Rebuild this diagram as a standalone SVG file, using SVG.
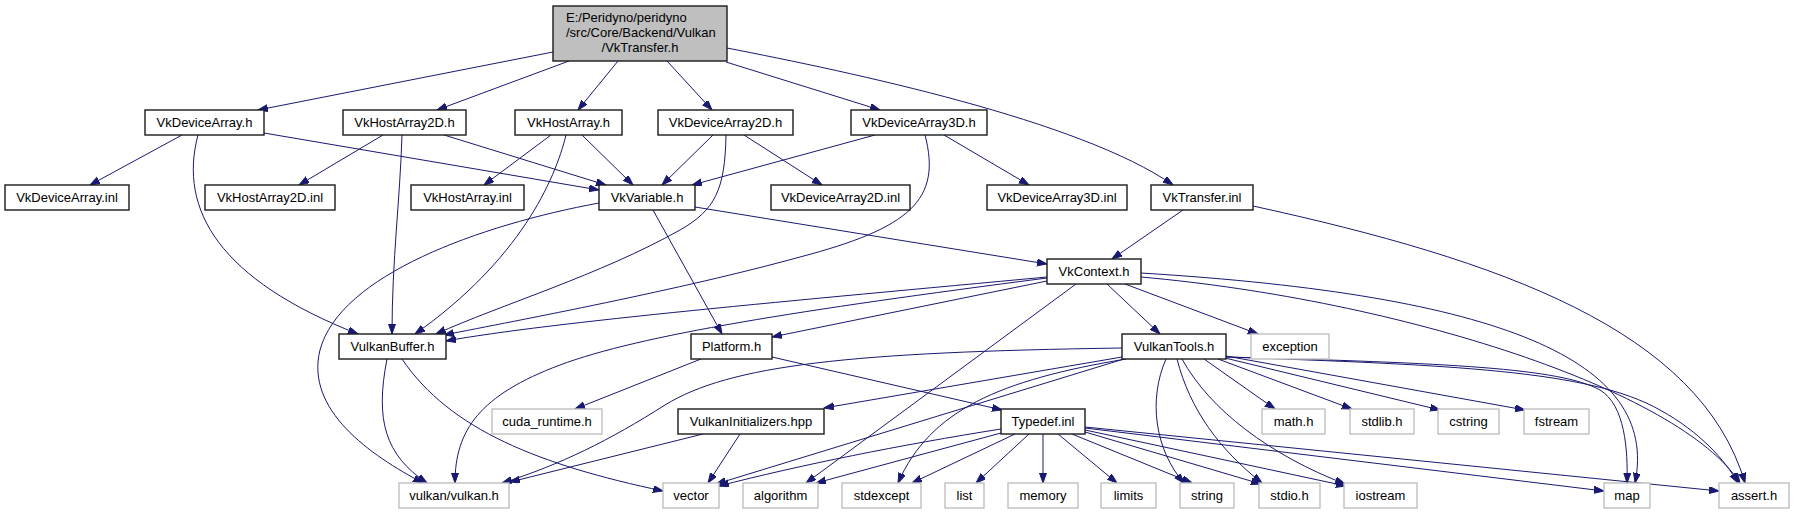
<svg xmlns="http://www.w3.org/2000/svg" width="1794" height="515" viewBox="0 0 1794 515">
<style>
  .n rect { fill: #ffffff; stroke: #1a1a1a; stroke-width: 1.4; }
  .g rect { fill: #ffffff; stroke: #bfbfbf; stroke-width: 1.4; }
  .root rect { fill: #bfbfbf; stroke: #1a1a1a; stroke-width: 1.4; }
  text { font-family: "Liberation Sans", Arial, sans-serif; font-size: 13px; fill: #000000; text-anchor: middle; }
  .e path { fill: none; stroke: #191970; stroke-width: 1; marker-end: url(#ah); }
</style>
<defs>
  <marker id="ah" markerWidth="11" markerHeight="8" refX="10" refY="3.5" orient="auto" markerUnits="userSpaceOnUse">
    <path d="M0,0 L10,3.5 L0,7 z" fill="#191970" stroke="#191970" stroke-width="1"/>
  </marker>
</defs>
<rect x="0" y="0" width="1794" height="515" fill="#ffffff"/>

<g id="edges" class="e">
  <path d="M553,52 L258,110"/>
  <path d="M569,61 L437,110"/>
  <path d="M618,61 L578,110"/>
  <path d="M667,61 L712,110"/>
  <path d="M726,62 L880,110"/>
  <path d="M727,48 C850,72 1080,120 1173,185"/>
  <path d="M182,135 L90,185"/>
  <path d="M264,133 L599,190"/>
  <path d="M198,135 C178,210 220,280 358,334"/>
  <path d="M383,135 L299,185"/>
  <path d="M444,135 L606,185"/>
  <path d="M402,135 C400,200 392,260 392,334"/>
  <path d="M551,135 L484,185"/>
  <path d="M582,135 L633,185"/>
  <path d="M566,135 C555,180 520,260 415,334"/>
  <path d="M713,135 L662,185"/>
  <path d="M744,135 L822,185"/>
  <path d="M726,135 C725,190 715,210 680,230 C600,275 500,305 436,334"/>
  <path d="M875,135 L692,185"/>
  <path d="M944,135 L1029,185"/>
  <path d="M925,135 C942,200 910,228 800,257 C680,290 520,320 444,335"/>
  <path d="M695,207 L1047,264"/>
  <path d="M653,210 L722,334"/>
  <path d="M599,203 C480,225 340,275 320,350 C305,410 370,455 423,483"/>
  <path d="M1183,210 L1112,259"/>
  <path d="M1253,206 C1500,260 1700,330 1745,483"/>
  <path d="M1047,277 C800,300 550,322 446,341"/>
  <path d="M1047,281 L772,337"/>
  <path d="M1107,284 L1160,334"/>
  <path d="M1125,284 L1258,334"/>
  <path d="M1076,284 L806,483"/>
  <path d="M1047,278 C800,310 640,335 560,365 C480,395 455,430 455,483"/>
  <path d="M1141,273 C1500,295 1660,360 1635,483"/>
  <path d="M1141,277 C1400,300 1680,390 1740,483"/>
  <path d="M387,359 C375,420 385,455 427,483"/>
  <path d="M402,359 C450,430 540,465 663,491"/>
  <path d="M701,359 L575,409"/>
  <path d="M772,357 L1002,410"/>
  <path d="M1122,348 C850,352 730,365 665,405 C610,440 560,465 502,483"/>
  <path d="M1122,357 L824,408"/>
  <path d="M1124,359 L716,484"/>
  <path d="M1126,359 C1000,380 930,410 898,483"/>
  <path d="M1204,359 L1275,409"/>
  <path d="M1218,359 L1352,409"/>
  <path d="M1225,358 L1440,410"/>
  <path d="M1226,356 L1525,410"/>
  <path d="M1166,359 C1148,400 1155,450 1184,483"/>
  <path d="M1177,359 C1190,410 1220,450 1262,483"/>
  <path d="M1182,359 C1210,410 1270,455 1345,484"/>
  <path d="M1226,357 C1450,363 1560,368 1600,390 C1625,405 1628,450 1627,483"/>
  <path d="M1227,357 C1450,365 1590,370 1660,410 C1700,432 1725,460 1738,483"/>
  <path d="M703,434 L510,482"/>
  <path d="M740,434 L708,483"/>
  <path d="M1001,429 C900,445 800,465 719,486"/>
  <path d="M1001,433 L816,483"/>
  <path d="M1015,434 L912,483"/>
  <path d="M1029,434 L976,483"/>
  <path d="M1043,434 L1043,483"/>
  <path d="M1058,434 L1117,483"/>
  <path d="M1072,434 L1192,483"/>
  <path d="M1085,432 L1261,484"/>
  <path d="M1085,430 L1346,486"/>
  <path d="M1085,428 L1604,491"/>
  <path d="M1085,427 L1719,491"/>
</g>

<g id="node_root" class="root">
  <rect x="553" y="6" width="174" height="55"/>
  <text x="566" y="22" style="text-anchor:start">E:/Peridyno/peridyno</text>
  <text x="566" y="37" style="text-anchor:start">/src/Core/Backend/Vulkan</text>
  <text x="640" y="52">/VkTransfer.h</text>
</g>

<g id="node_VkDeviceArray_h" class="n"><rect x="145" y="110" width="119" height="25"/><text x="204.5" y="127">VkDeviceArray.h</text></g>
<g id="node_VkHostArray2D_h" class="n"><rect x="343" y="110" width="123" height="25"/><text x="404.5" y="127">VkHostArray2D.h</text></g>
<g id="node_VkHostArray_h" class="n"><rect x="515" y="110" width="107" height="25"/><text x="568.5" y="127">VkHostArray.h</text></g>
<g id="node_VkDeviceArray2D_h" class="n"><rect x="658" y="110" width="135" height="25"/><text x="725.5" y="127">VkDeviceArray2D.h</text></g>
<g id="node_VkDeviceArray3D_h" class="n"><rect x="851" y="110" width="136" height="25"/><text x="919" y="127">VkDeviceArray3D.h</text></g>

<g id="node_VkDeviceArray_inl" class="n"><rect x="5" y="185" width="124" height="25"/><text x="67" y="202">VkDeviceArray.inl</text></g>
<g id="node_VkHostArray2D_inl" class="n"><rect x="205" y="185" width="130" height="25"/><text x="270" y="202">VkHostArray2D.inl</text></g>
<g id="node_VkHostArray_inl" class="n"><rect x="411" y="185" width="113" height="25"/><text x="467.5" y="202">VkHostArray.inl</text></g>
<g id="node_VkVariable_h" class="n"><rect x="599" y="185" width="96" height="25"/><text x="647" y="202">VkVariable.h</text></g>
<g id="node_VkDeviceArray2D_inl" class="n"><rect x="771" y="185" width="139" height="25"/><text x="840.5" y="202">VkDeviceArray2D.inl</text></g>
<g id="node_VkDeviceArray3D_inl" class="n"><rect x="987" y="185" width="140" height="25"/><text x="1057" y="202">VkDeviceArray3D.inl</text></g>
<g id="node_VkTransfer_inl" class="n"><rect x="1151" y="185" width="102" height="25"/><text x="1202" y="202">VkTransfer.inl</text></g>

<g id="node_VkContext_h" class="n"><rect x="1047" y="259" width="94" height="25"/><text x="1094" y="276">VkContext.h</text></g>

<g id="node_VulkanBuffer_h" class="n"><rect x="339" y="334" width="107" height="25"/><text x="392.5" y="351">VulkanBuffer.h</text></g>
<g id="node_Platform_h" class="n"><rect x="691" y="334" width="81" height="25"/><text x="731.5" y="351">Platform.h</text></g>
<g id="node_VulkanTools_h" class="n"><rect x="1122" y="334" width="104" height="25"/><text x="1174" y="351">VulkanTools.h</text></g>
<g id="node_exception" class="g"><rect x="1251" y="334" width="78" height="25"/><text x="1290" y="351">exception</text></g>

<g id="node_cuda_runtime_h" class="g"><rect x="492" y="409" width="110" height="25"/><text x="547" y="426">cuda_runtime.h</text></g>
<g id="node_VulkanInitializers_hpp" class="n"><rect x="678" y="409" width="146" height="25"/><text x="751" y="426">VulkanInitializers.hpp</text></g>
<g id="node_Typedef_inl" class="n"><rect x="1001" y="409" width="84" height="25"/><text x="1043" y="426">Typedef.inl</text></g>
<g id="node_math_h" class="g"><rect x="1262" y="409" width="63" height="25"/><text x="1293.5" y="426">math.h</text></g>
<g id="node_stdlib_h" class="g"><rect x="1350" y="409" width="64" height="25"/><text x="1382" y="426">stdlib.h</text></g>
<g id="node_cstring" class="g"><rect x="1438" y="409" width="61" height="25"/><text x="1468.5" y="426">cstring</text></g>
<g id="node_fstream" class="g"><rect x="1524" y="409" width="65" height="25"/><text x="1556.5" y="426">fstream</text></g>

<g id="node_vulkan_h" class="g"><rect x="399" y="483" width="110" height="25"/><text x="454" y="500">vulkan/vulkan.h</text></g>
<g id="node_vector" class="g"><rect x="663" y="483" width="56" height="25"/><text x="691" y="500">vector</text></g>
<g id="node_algorithm" class="g"><rect x="743" y="483" width="75" height="25"/><text x="780.5" y="500">algorithm</text></g>
<g id="node_stdexcept" class="g"><rect x="842" y="483" width="79" height="25"/><text x="881.5" y="500">stdexcept</text></g>
<g id="node_list" class="g"><rect x="945" y="483" width="39" height="25"/><text x="964.5" y="500">list</text></g>
<g id="node_memory" class="g"><rect x="1008" y="483" width="70" height="25"/><text x="1043" y="500">memory</text></g>
<g id="node_limits" class="g"><rect x="1101" y="483" width="55" height="25"/><text x="1128.5" y="500">limits</text></g>
<g id="node_string" class="g"><rect x="1180" y="483" width="54" height="25"/><text x="1207" y="500">string</text></g>
<g id="node_stdio_h" class="g"><rect x="1259" y="483" width="61" height="25"/><text x="1289.5" y="500">stdio.h</text></g>
<g id="node_iostream" class="g"><rect x="1344" y="483" width="73" height="25"/><text x="1380.5" y="500">iostream</text></g>
<g id="node_map" class="g"><rect x="1604" y="483" width="46" height="25"/><text x="1627" y="500">map</text></g>
<g id="node_assert_h" class="g"><rect x="1719" y="483" width="70" height="25"/><text x="1754" y="500">assert.h</text></g>
</svg>
